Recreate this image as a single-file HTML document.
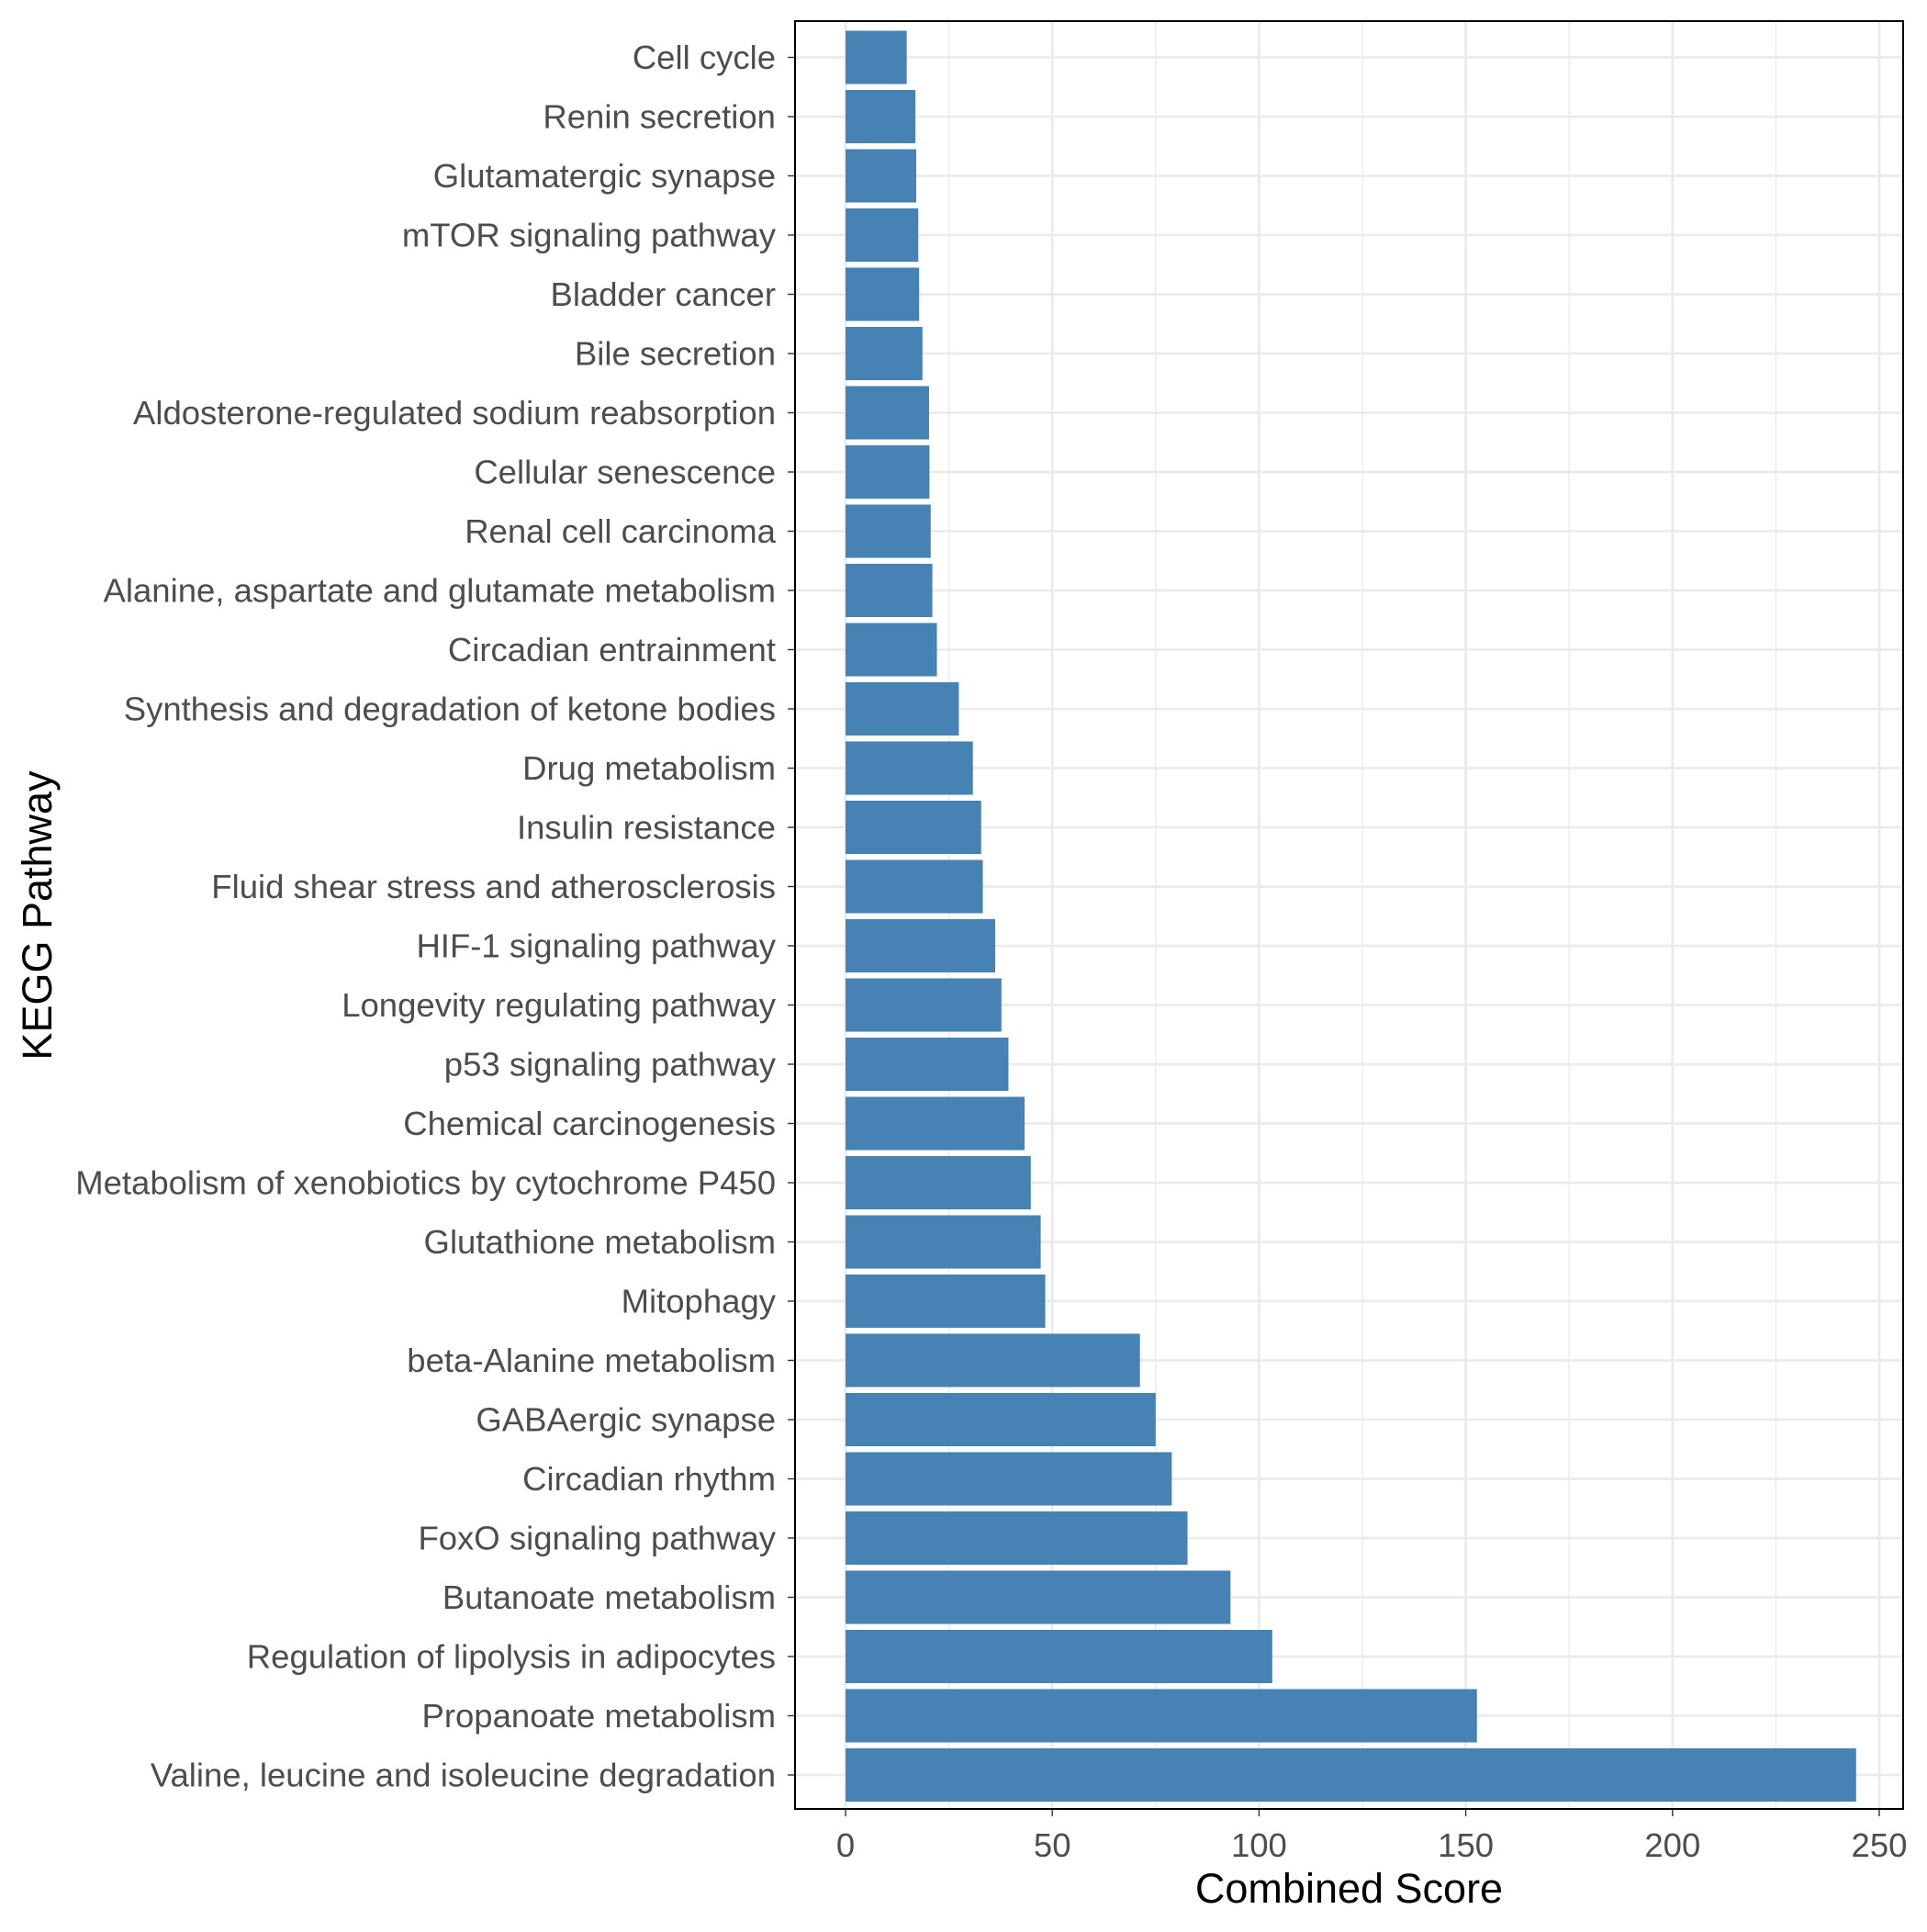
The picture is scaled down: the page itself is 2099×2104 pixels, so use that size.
<!DOCTYPE html>
<html><head><meta charset="utf-8"><style>
html,body{margin:0;padding:0;background:#fff}
svg text{font-family:"Liberation Sans",Arial,sans-serif}
</style></head><body>
<svg id="chart" width="2099" height="2099" viewBox="0 0 2099 2099" xmlns="http://www.w3.org/2000/svg"></svg>
<script>
const categories=["Cell cycle","Renin secretion","Glutamatergic synapse","mTOR signaling pathway","Bladder cancer","Bile secretion","Aldosterone-regulated sodium reabsorption","Cellular senescence","Renal cell carcinoma","Alanine, aspartate and glutamate metabolism","Circadian entrainment","Synthesis and degradation of ketone bodies","Drug metabolism","Insulin resistance","Fluid shear stress and atherosclerosis","HIF-1 signaling pathway","Longevity regulating pathway","p53 signaling pathway","Chemical carcinogenesis","Metabolism of xenobiotics by cytochrome P450","Glutathione metabolism","Mitophagy","beta-Alanine metabolism","GABAergic synapse","Circadian rhythm","FoxO signaling pathway","Butanoate metabolism","Regulation of lipolysis in adipocytes","Propanoate metabolism","Valine, leucine and isoleucine degradation"];
const scores=[14.8,16.9,17.1,17.6,17.8,18.6,20.2,20.3,20.6,21.0,22.1,27.4,30.8,32.8,33.2,36.2,37.7,39.4,43.3,44.8,47.2,48.3,71.2,75.0,78.9,82.7,93.1,103.2,152.7,244.4];
const xTicks=[0,50,100,150,200,250];
const xMinor=[25,75,125,175,225];

const svg=document.getElementById('chart');
const NS='http://www.w3.org/2000/svg';
const PL=866,PR=2073,PT=23,PB=1970;
const x=v=>921+v*(2047-921)/250;
const yC=i=>62.5+i*(1933-62.5)/(categories.length-1);
const bw=0.9*(1933-62.5)/(categories.length-1);
function mk(tag,attrs,parent){const e=document.createElementNS(NS,tag);for(const k in attrs)e.setAttribute(k,attrs[k]);(parent||svg).appendChild(e);return e;}

const grid=mk('g',{});


xMinor.forEach(v=>{const l=mk('line',{x1:x(v),x2:x(v),y1:PT,y2:PB,stroke:'#ebebeb','stroke-width':1.4},grid);

});
xTicks.forEach(v=>{const l=mk('line',{x1:x(v),x2:x(v),y1:PT,y2:PB,stroke:'#ebebeb','stroke-width':2.8},grid);

});
categories.forEach((c,i)=>{const l=mk('line',{x1:PL,x2:PR,y1:yC(i),y2:yC(i),stroke:'#ebebeb','stroke-width':2.8},grid);

});

const bars=mk('g',{});


categories.forEach((c,i)=>{
 const r=mk('rect',{x:x(0),y:yC(i)-bw/2,width:x(scores[i])-x(0),height:bw,fill:'#4682b4'},bars);
 
 
 const t=mk('text',{x:845,y:yC(i)+12.5,'text-anchor':'end','font-size':36.5,fill:'#4d4d4d'});
 t.textContent=c;
 
 
 const tk=mk('line',{x1:858,x2:PL,y1:yC(i),y2:yC(i),stroke:'#333','stroke-width':1.4});
 
 
});
xTicks.forEach(v=>{
 const tk=mk('line',{x1:x(v),x2:x(v),y1:PB,y2:PB+8,stroke:'#333','stroke-width':1.4});
 
 
 const t=mk('text',{x:x(v),y:2022,'text-anchor':'middle','font-size':36.5,fill:'#4d4d4d'});
 t.textContent=v;
 
 
});
const frame=mk('rect',{x:PL,y:PT,width:PR-PL,height:PB-PT,fill:'none',stroke:'#000','stroke-width':2});


const xt=mk('text',{x:(PL+PR)/2,y:2072,'text-anchor':'middle','font-size':45,fill:'#000'});
xt.textContent='Combined Score';


const yt=mk('text',{x:0,y:0,'text-anchor':'middle','font-size':45,fill:'#000',transform:'translate(56,997) rotate(-90)'});
yt.textContent='KEGG Pathway';


</script>
</body></html>
